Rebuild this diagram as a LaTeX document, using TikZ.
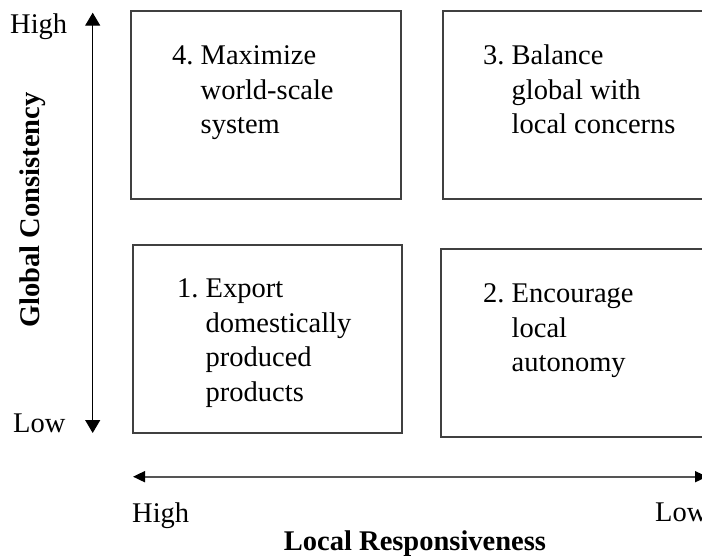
\documentclass[tikz,border=0pt]{standalone}
\usepackage{fontspec}
\setmainfont{Liberation Serif}
\usepackage{tikz}
\usetikzlibrary{arrows.meta}
\usetikzlibrary{positioning}
\definecolor{boxgray}{HTML}{404040}
\definecolor{axisgray}{HTML}{555555}
\tikzset{
  quad/.style = {rectangle, draw=boxgray, line width=1.6pt,
    minimum height=188pt, inner sep=0pt},% cadre d'un quadrant
  qtext/.style = {anchor=base west, inner sep=0pt, align=left,
    font=\fontsize{28.5pt}{34.5pt}\selectfont},% texte d'un quadrant
  lbl/.style = {inner sep=0pt, font=\fontsize{28.5pt}{34pt}\selectfont},% High / Low
  lblbold/.style = {lbl, font=\fontsize{28.5pt}{34pt}\selectfont\bfseries},% titre d'axe
  gaxis/.style = {black, line width=1.3pt,
    {Triangle[length=13pt,width=15pt]}-{Triangle[length=13pt,width=15pt]}},
  laxis/.style = {axisgray, line width=1.8pt,
    {Triangle[length=12pt,width=11pt,color=black]}-{Triangle[length=12pt,width=11pt,color=black]}}
}
\newcommand{\quadlines}[2]{\begin{tabular}[t]{@{}l@{\ }l@{}}#1 & #2\end{tabular}}

\begin{document}
\begin{tikzpicture}[x=1pt,y=-1pt]
\clip (0,0) rectangle (702,556);
% quadrants
\node [quad, minimum width=270pt] (q4) at (265.7,105) {};
\node [quad, minimum width=278pt] (q3) at (581.7,105) {};
\node [quad, minimum width=269.3pt] (q1) at (267.35,339) {};
\node [quad, minimum width=279pt] (q2) at (580.5,343) {};
\node [qtext] (t4) at (172,65) {\quadlines{4.}{Maximize\\ & world-scale\\ & system}};
\node [qtext] (t3) at (483,65) {\quadlines{3.}{Balance\\ & global with\\ & local concerns}};
\node [qtext] (t1) at (177,298) {\quadlines{1.}{Export\\ & domestically\\ & produced\\ & products}};
\node [qtext] (t2) at (483,303) {\quadlines{2.}{Encourage\\ & local\\ & autonomy}};
% axe vertical
\coordinate (gtop) at (92.7,12.7);
\coordinate (gbot) at (92.7,433);
\draw [gaxis] (gbot) -- (gtop);
\node [lbl, anchor=base west] (ghigh) at (10,34) {High};
\node [lbl, anchor=base west] (glow) at (13,432) {Low};
\node [lblbold, rotate=90] (gtitle) at (33,210) {Global Consistency};
% axe horizontal
\coordinate (lleft) at (133,476.7);
\coordinate (lright) at (707,476.7);
\draw [laxis] (lleft) -- (lright);
\node [lbl, anchor=base west] (lhigh) at (132,522) {High};
\node [lbl, anchor=base west] (llow) at (655,521) {Low};
\node [lblbold, anchor=base] (ltitle) at (415,550) {Local Responsiveness};
\end{tikzpicture}
\end{document}
